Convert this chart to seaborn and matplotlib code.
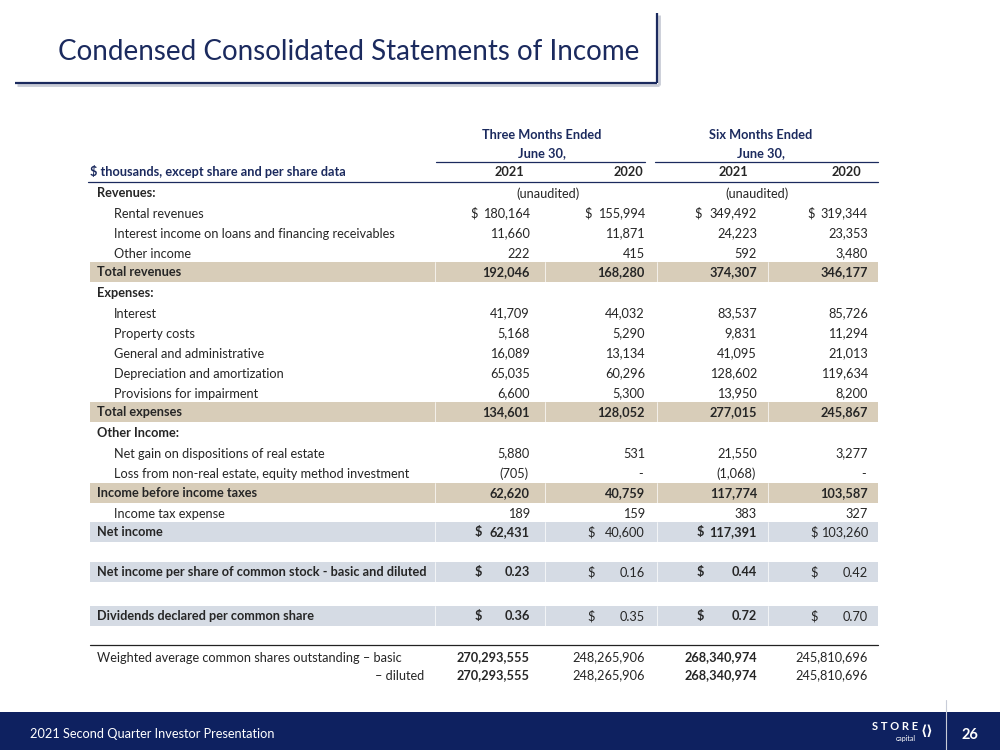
import matplotlib
matplotlib.use("Agg")
import matplotlib.pyplot as plt
import seaborn as sns
from matplotlib.patches import Rectangle

sns.set_theme(style="white")
plt.rcParams['font.family'] = ['Lato', 'DejaVu Sans']

# ---------------- data ----------------
title = "Condensed Consolidated Statements of Income"
footer_text = "2021 Second Quarter Investor Presentation"
page_number = "26"
group_headers = ["Three Months Ended", "Six Months Ended"]
group_sub = ["June 30,", "June 30,"]
unaudited = ["(unaudited)", "(unaudited)"]
col_years = ["2021", "2020", "2021", "2020"]
unit_label = "$ thousands, except share and per share data"

row_labels = [
    "Revenues:", "Rental revenues",
    "Interest income on loans and financing receivables", "Other income",
    "Total revenues", "Expenses:", "Interest", "Property costs",
    "General and administrative", "Depreciation and amortization",
    "Provisions for impairment", "Total expenses", "Other Income:",
    "Net gain on dispositions of real estate",
    "Loss from non-real estate, equity method investment",
    "Income before income taxes", "Income tax expense", "Net income", "",
    "Net income per share of common stock - basic and diluted", "",
    "Dividends declared per common share", "",
    "Weighted average common shares outstanding \u2013 basic", "\u2013 diluted",
]
row_kinds = [
    "section", "item", "item", "item", "total", "section", "item", "item",
    "item", "item", "item", "total", "section", "item", "item", "total",
    "item", "key", "blank", "key", "blank", "key", "blank", "shares", "shares_r",
]
dollar_rows = ["Rental revenues", "Net income",
               "Net income per share of common stock - basic and diluted",
               "Dividends declared per common share"]
per_share_rows = ["Net income per share of common stock - basic and diluted",
                  "Dividends declared per common share"]

q2_2021 = [None, 180164, 11660, 222, 192046, None, 41709, 5168, 16089, 65035,
           6600, 134601, None, 5880, -705, 62620, 189, 62431, None, 0.23, None,
           0.36, None, 270293555, 270293555]
q2_2020 = [None, 155994, 11871, 415, 168280, None, 44032, 5290, 13134, 60296,
           5300, 128052, None, 531, 0, 40759, 159, 40600, None, 0.16, None,
           0.35, None, 248265906, 248265906]
h1_2021 = [None, 349492, 24223, 592, 374307, None, 83537, 9831, 41095, 128602,
           13950, 277015, None, 21550, -1068, 117774, 383, 117391, None, 0.44,
           None, 0.72, None, 268340974, 268340974]
h1_2020 = [None, 319344, 23353, 3480, 346177, None, 85726, 11294, 21013, 119634,
           8200, 245867, None, 3277, 0, 103587, 327, 103260, None, 0.42, None,
           0.70, None, 245810696, 245810696]
columns = [q2_2021, q2_2020, h1_2021, h1_2020]
bold_cols = [True, False, True, False]

# ---------------- layout ----------------
row_y = [193, 213, 233, 253, 272, 293, 313, 333, 353, 373, 393, 412, 433, 453,
         473, 493, 513, 532, 552, 572, 594, 616, 636, 657, 675]
col_right = [530, 645, 757, 868]
col_dollar = [470, 584, 694, 807]
key_dollar = [475, 587, 697, 810]
year_centers = [509, 628, 733, 846]
group_centers = [542, 761]
group_lines = [(436, 645), (655, 878)]
unaud_centers = [548, 757]
tab_left, tab_right = 90, 878

NAVY = "#1B2A5E"
TXT = "#262626"
TAN = "#D8CDB9"
BLUE = "#D5DBE4"
FOOT = "#0E2160"
FS = 9.2
BASE = 4.6  # baseline offset from row centre (px)

fig = plt.figure(figsize=(10, 7.5), dpi=100)
ax = fig.add_axes([0, 0, 1, 1])
ax.set_xlim(0, 1000)
ax.set_ylim(750, 0)
ax.axis("off")


def t(x, y, s, **kw):
    kw.setdefault("fontsize", FS)
    kw.setdefault("color", TXT)
    dy = -1.0 if kw.get("fontweight") == "bold" else 0.0
    ax.text(x, y + BASE + dy, s, va="baseline", **kw)


# title box
ax.text(58, 52, title, fontsize=20, color=NAVY, va="center", ha="left")
ax.plot([17, 659], [85, 85], color="#C9CCD6", lw=2, solid_capstyle="butt")
ax.plot([659, 659], [15, 85], color="#C9CCD6", lw=2, solid_capstyle="butt")
ax.plot([15, 657], [83, 83], color=NAVY, lw=1.6, solid_capstyle="butt")
ax.plot([657, 657], [13, 83], color=NAVY, lw=1.6, solid_capstyle="butt")

# headers
for c, h, s, (x0, x1) in zip(group_centers, group_headers, group_sub, group_lines):
    t(c, 135, h, fontweight="bold", color=NAVY, ha="center")
    t(c, 153, s, fontweight="bold", color=NAVY, ha="center")
    ax.plot([x0, x1], [162, 162], color=NAVY, lw=0.9)
t(tab_left, 172, unit_label, fontweight="bold", color=NAVY, ha="left")
for c, yv in zip(year_centers, col_years):
    t(c, 172, yv, fontweight="bold", ha="center")
ax.plot([88, tab_right], [181.5, 181.5], color=NAVY, lw=0.9)
for c, u in zip(unaud_centers, unaudited):
    t(c, 193, u, ha="center")


def fmt(v, per_share):
    if v is None:
        return ""
    if per_share:
        return f"{v:.2f}"
    if v == 0:
        return "-"
    if v < 0:
        return f"({-v:,})"
    return f"{v:,}"


for i, (lab, kind, y) in enumerate(zip(row_labels, row_kinds, row_y)):
    if kind == "blank":
        continue
    if kind in ("total", "key"):
        ax.add_patch(Rectangle((tab_left, y - 10), tab_right - tab_left, 20,
                               facecolor=TAN if kind == "total" else BLUE,
                               edgecolor="none", zorder=0))
        for xs in (435, 545, 657, 768):
            ax.plot([xs, xs], [y - 10, y + 10], color="white", lw=0.5, zorder=0.5)
    bold_label = kind in ("section", "total", "key")
    if kind == "item":
        lx, ha = 114, "left"
    elif kind == "shares_r":
        lx, ha = 424, "right"
    else:
        lx, ha = 97, "left"
    t(lx, y, lab, ha=ha, fontweight="bold" if bold_label else "normal")
    per_share = lab in per_share_rows
    for j, col in enumerate(columns):
        v = col[i]
        if v is None:
            continue
        if kind == "total":
            w = "bold"
        elif kind in ("key", "shares", "shares_r"):
            w = "bold" if bold_cols[j] else "normal"
        else:
            w = "normal"
        s = fmt(v, per_share)
        xr = col_right[j]
        if s == "-":
            xr -= 2
        elif s.endswith(")"):
            xr -= 1
        t(xr, y, s, ha="right", fontweight=w)
        if lab in dollar_rows:
            dx = key_dollar[j] if kind == "key" else col_dollar[j]
            t(dx, y, "$", ha="left", fontweight=w)

ax.plot([tab_left, tab_right], [645, 645], color="#222222", lw=0.9)

# footer
ax.add_patch(Rectangle((0, 712), 1000, 38, facecolor=FOOT, edgecolor="none"))
ax.plot([946, 946], [700, 750], color="#C8CCD8", lw=0.8)
ax.text(30, 734, footer_text, fontsize=9.2, color="white", ha="left", va="center")
ax.text(970, 735, page_number, fontsize=10.5, fontweight="bold", color="white",
        ha="center", va="center")
ax.text(895, 727, "S T O R E", fontsize=8, fontweight="bold", color="white",
        ha="center", va="center")
ax.text(916, 739, "capital", fontsize=5, color="white", ha="right", va="center")
ax.text(927, 731, "\u27e8\u27e9", fontsize=10, fontweight="bold", color="white",
        ha="center", va="center", family=["DejaVu Sans"])

fig.savefig("out.png", dpi=100, facecolor="white")
